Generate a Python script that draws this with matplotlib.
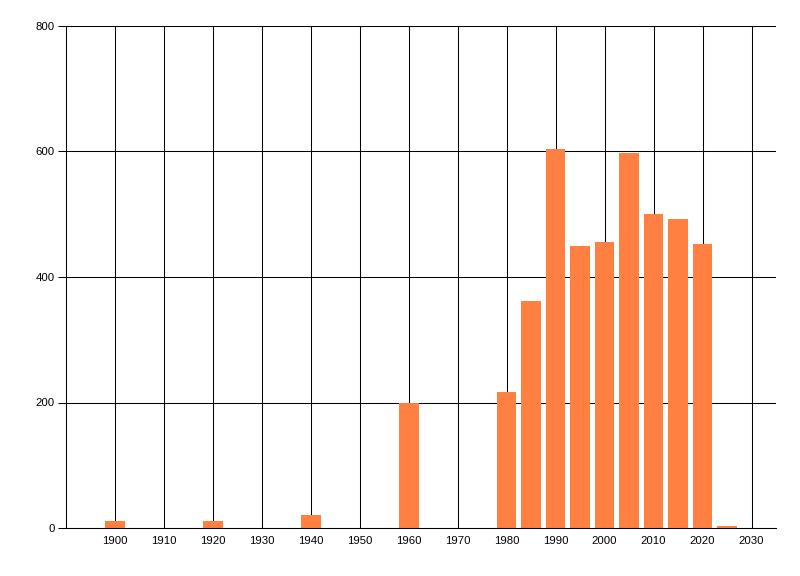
import matplotlib
matplotlib.use("Agg")
import matplotlib.pyplot as plt

years = [1900, 1920, 1940, 1960, 1980, 1985, 1990, 1995, 2000, 2005, 2010, 2015, 2020, 2025]
values = [11, 11, 21, 200, 217, 362, 604, 449, 455, 597, 501, 492, 453, 3]
x_ticks = list(range(1900, 2031, 10))
y_ticks = [0, 200, 400, 600, 800]

plt.rcParams['font.family'] = ['Liberation Sans', 'DejaVu Sans']

fig = plt.figure(figsize=(8, 5.76), dpi=100)
ax = fig.add_axes([66/800, 1 - 528/576, (776-66)/800, (528-26)/576])

ax.bar(years, values, width=4, color='#FF8040', zorder=2)

ax.set_xlim(1890, 2035)
ax.set_ylim(0, 800)
ax.set_xticks(x_ticks)
ax.set_yticks(y_ticks)
ax.set_axisbelow(True)
ax.grid(True, color='black', linewidth=0.75)

for s in ['top', 'right']:
    ax.spines[s].set_visible(False)
for s in ['left', 'bottom']:
    ax.spines[s].set_linewidth(0.75)
    ax.spines[s].set_color('black')

ax.tick_params(axis='x', length=0, pad=6, labelsize=8.2)
ax.tick_params(axis='y', length=6, width=0.75, pad=2, labelsize=8.2)

fig.savefig('out.png', dpi=100)
